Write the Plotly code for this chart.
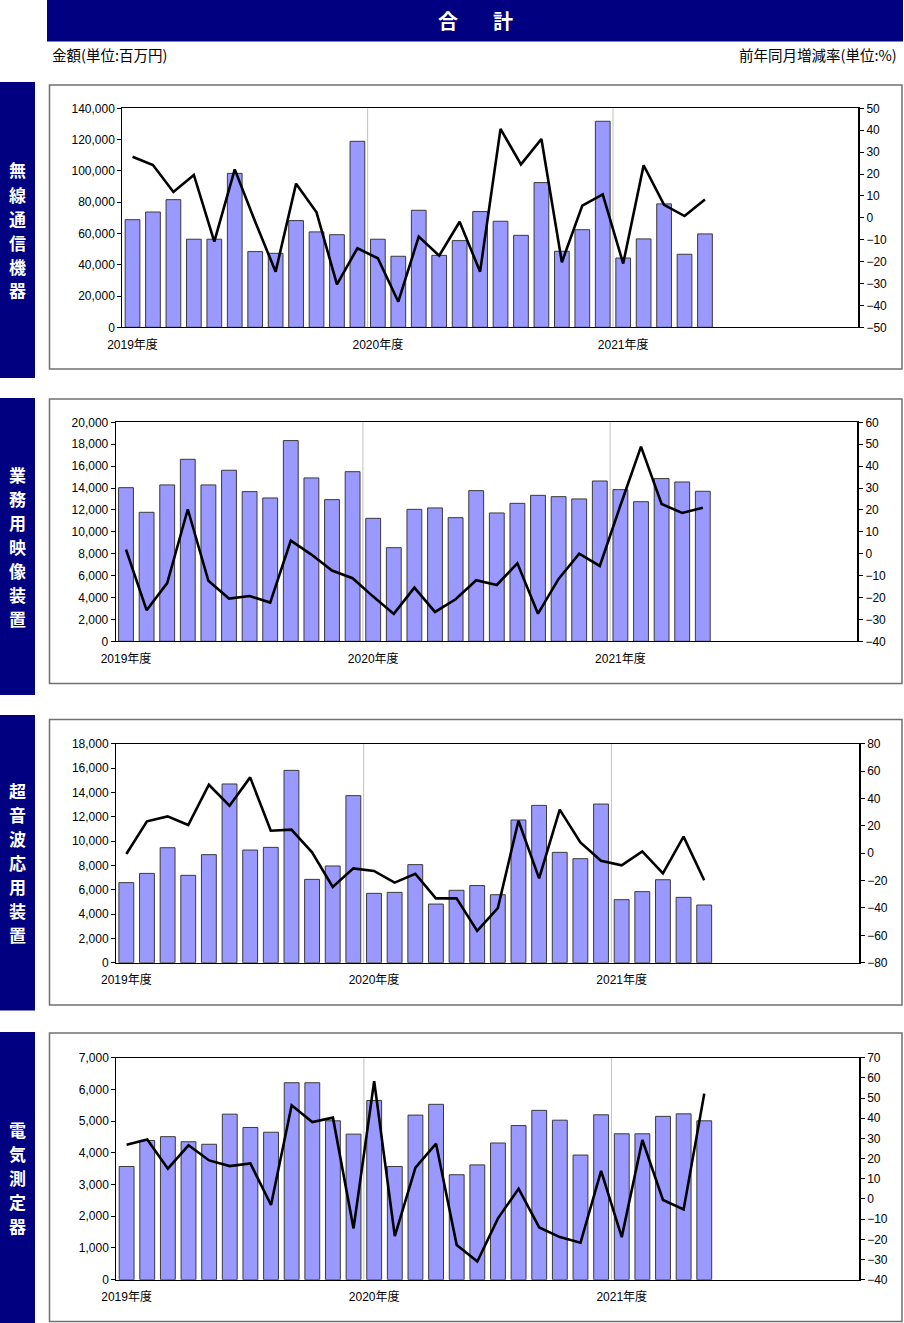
import plotly.graph_objects as go

W, H = 904, 1323

# ---------------- data ----------------
fiscal_years = [2019, 2020, 2021]
month_order = [4, 5, 6, 7, 8, 9, 10, 11, 12, 1, 2, 3]
months = []
for fy in fiscal_years:
    for m in month_order:
        y = fy if m >= 4 else fy + 1
        months.append(f"{y}/{m:02d}")
data_months = months[:29]
tick_vals = ["2019/04", "2020/04", "2021/04"]
tick_text = ["2019年度", "2020年度", "2021年度"]

panel_names = ["無線通信機器", "業務用映像装置", "超音波応用装置", "電気測定器"]

amount_wireless = [68800, 73700, 81600, 56300, 56300, 98400, 48400, 47300, 68200, 61000, 59200, 118900,
                   56300, 45400, 74800, 46000, 55400, 74000, 67800, 58800, 92500, 48600, 62400, 131700,
                   44300, 56500, 78900, 46700, 59700]
rate_wireless = [27.9, 24.1, 11.8, 19.6, -10.9, 22.1, -1.8, -24.6, 15.6, 2.5, -30.4, -13.9,
                 -18.5, -38.3, -8.6, -17.3, -1.8, -24.6, 40.6, 24.4, 36.0, -20.3, 5.6, 10.7,
                 -20.9, 24.0, 5.9, 0.8, 8.4]

amount_video = [14030, 11780, 14280, 16620, 14280, 15620, 13670, 13090, 18330, 14920, 12940, 15490,
                11230, 8550, 12050, 12180, 11290, 13760, 11720, 12600, 13330, 13210, 13000, 14640,
                13850, 12750, 14860, 14550, 13700]
rate_video = [1.9, -25.8, -13.4, 20.3, -12.4, -20.5, -19.3, -22.3, 6.0, -0.4, -7.7, -11.2,
              -19.6, -27.5, -15.5, -26.6, -20.8, -12.1, -14.3, -4.4, -27.4, -11.5, 0.0, -5.6,
              22.0, 48.9, 22.7, 18.6, 21.0]

amount_ultra = [6580, 7340, 9450, 7180, 8880, 14690, 9260, 9480, 15810, 6850, 7950, 13730,
                5700, 5780, 8060, 4820, 5950, 6340, 5590, 11730, 12930, 9070, 8550, 13040,
                5180, 5840, 6820, 5370, 4740]
rate_ultra = [-0.6, 23.3, 26.9, 20.6, 50.0, 34.7, 55.4, 16.4, 17.2, 0.6, -24.7, -11.1,
              -13.0, -21.5, -15.0, -33.0, -33.0, -56.8, -40.1, 23.7, -18.4, 31.8, 7.9, -5.5,
              -8.9, 1.3, -14.7, 12.1, -19.8]

amount_meter = [3570, 4390, 4510, 4350, 4270, 5220, 4800, 4650, 6210, 6210, 5010, 4590,
                5650, 3570, 5190, 5530, 3310, 3620, 4310, 4860, 5340, 5030, 3930, 5200,
                4600, 4600, 5150, 5230, 5010]
rate_meter = [26.9, 29.5, 15.0, 26.6, 19.1, 16.3, 17.6, -3.0, 46.4, 38.1, 40.3, -14.6,
              58.4, -18.4, 15.5, 27.4, -22.8, -31.0, -9.6, 5.1, -14.1, -18.9, -21.7, 13.9,
              -18.9, 29.2, -0.5, -5.2, 52.2]

amounts = [amount_wireless, amount_video, amount_ultra, amount_meter]
rates = [rate_wireless, rate_video, rate_ultra, rate_meter]
amount_ranges = [(0, 140000, 20000), (0, 20000, 2000), (0, 18000, 2000), (0, 7000, 1000)]
rate_ranges = [(-50, 50, 10), (-40, 60, 10), (-80, 80, 20), (-40, 70, 10)]

# ---------------- layout geometry (pixels) ----------------
plot_boxes = [  # x0, x1, ytop, ybottom
    (122.3, 858.3, 108.3, 327.3),
    (115.7, 857.3, 422.3, 641.3),
    (116.0, 859.0, 743.7, 962.7),
    (116.3, 859.0, 1057.7, 1279.7),
]
panel_frames = [(49.5, 902, 85, 369), (49.5, 902, 399, 683.5), (49.5, 902, 719.5, 1005), (49.5, 902, 1033, 1321.5)]
side_bars = [(82, 378), (398, 695), (715, 1010.5), (1032, 1323)]

NAVY = "#000080"
FONT = "Liberation Sans, Noto Sans CJK JP, sans-serif"
JFONT = "Noto Sans CJK JP, sans-serif"


def px(x):
    return x / W


def py(y):
    return 1 - y / H


fig = go.Figure()
shapes = []
annotations = []

# title bar
shapes.append(dict(type="rect", xref="paper", yref="paper", x0=px(47), x1=px(903), y0=py(41.5), y1=py(0),
                   fillcolor=NAVY, line=dict(width=0), layer="below"))
for ch, cx in [("合", 448), ("計", 503)]:
    annotations.append(dict(xref="paper", yref="paper", x=px(cx), y=py(21), text=f"<b>{ch}</b>", showarrow=False,
                            font=dict(family=JFONT, size=20, color="white"), xanchor="center", yanchor="middle"))
annotations.append(dict(xref="paper", yref="paper", x=px(50), y=py(54), text="金額(単位:百万円)", showarrow=False,
                        font=dict(family=JFONT, size=14.5, color="black"), xanchor="left", yanchor="middle"))
annotations.append(dict(xref="paper", yref="paper", x=px(899), y=py(54), text="前年同月増減率(単位:%)", showarrow=False,
                        font=dict(family=JFONT, size=14.5, color="black"), xanchor="right", yanchor="middle"))

layout_axes = {}
for i in range(4):
    x0, x1, yt, yb = plot_boxes[i]
    xa = "x" if i == 0 else f"x{i + 1}"
    ya_n = 2 * i + 1
    yb_n = 2 * i + 2
    ya = "y" if ya_n == 1 else f"y{ya_n}"
    yb2 = f"y{yb_n}"

    fig.add_trace(go.Bar(x=data_months, y=amounts[i], xaxis=xa, yaxis=ya,
                         marker=dict(color="#9999FF", line=dict(color="#3a3a3a", width=1)),
                         showlegend=False, hoverinfo="skip"))
    fig.add_trace(go.Scatter(x=data_months, y=rates[i], xaxis=xa, yaxis=yb2, mode="lines",
                             line=dict(color="black", width=2.6), showlegend=False, hoverinfo="skip"))

    xkey = "xaxis" if i == 0 else f"xaxis{i + 1}"
    ykey = "yaxis" if ya_n == 1 else f"yaxis{ya_n}"
    y2key = f"yaxis{yb_n}"
    dom_y = [py(yb), py(yt)]
    layout_axes[xkey] = dict(domain=[px(x0), px(x1)], anchor=ya, type="category", categoryorder="array",
                             categoryarray=months, range=[-0.5, len(months) - 0.5],
                             tickmode="array", tickvals=tick_vals, ticktext=tick_text, ticks="",
                             ticklabelstandoff=6, automargin=False,
                             showline=True, linecolor="black", linewidth=1, mirror=True,
                             showgrid=False, zeroline=False, fixedrange=True,
                             tickfont=dict(family=FONT, size=12, color="black"))
    lo, hi, dt = amount_ranges[i]
    layout_axes[ykey] = dict(domain=dom_y, anchor=xa, range=[lo, hi], dtick=dt, tickformat=",d",
                             showline=True, linecolor="black", linewidth=1, ticks="outside", ticklen=4,
                             tickcolor="black", showgrid=False, zeroline=False, automargin=False,
                             tickfont=dict(family=FONT, size=12, color="black"))
    lo2, hi2, dt2 = rate_ranges[i]
    layout_axes[y2key] = dict(domain=dom_y, anchor=xa, overlaying=ya, side="right", range=[lo2, hi2], dtick=dt2,
                              showline=True, linecolor="black", linewidth=1.5, ticks="outside", ticklen=4,
                              tickcolor="black", showgrid=False, zeroline=False, automargin=False,
                              tickfont=dict(family=FONT, size=12, color="black"))

    # year divider lines
    for b in [11.5, 23.5]:
        shapes.append(dict(type="line", xref=xa, yref=f"{ya} domain", x0=b, x1=b, y0=0, y1=1,
                           line=dict(color="#c0c0c0", width=1), layer="below"))

    # panel frame
    fx0, fx1, fy0, fy1 = panel_frames[i]
    shapes.append(dict(type="rect", xref="paper", yref="paper", x0=px(fx0), x1=px(fx1), y0=py(fy1), y1=py(fy0),
                       line=dict(color="#707070", width=1.5), fillcolor="rgba(0,0,0,0)", layer="below"))

    # side bar with vertical label
    s0, s1 = side_bars[i]
    shapes.append(dict(type="rect", xref="paper", yref="paper", x0=px(0), x1=px(35), y0=py(s1), y1=py(s0),
                       fillcolor=NAVY, line=dict(width=0), layer="below"))
    name = panel_names[i]
    n = len(name)
    center = (s0 + s1) / 2
    for k, ch in enumerate(name):
        cy = center + (k - (n - 1) / 2) * 24
        annotations.append(dict(xref="paper", yref="paper", x=px(17.5), y=py(cy), text=f"<b>{ch}</b>",
                                showarrow=False, font=dict(family=JFONT, size=17, color="white"),
                                xanchor="center", yanchor="middle"))

fig.update_layout(width=W, height=H, margin=dict(l=0, r=0, t=0, b=0, autoexpand=False),
                  paper_bgcolor="white", plot_bgcolor="white", bargap=0.28,
                  shapes=shapes, annotations=annotations, **layout_axes)

fig.write_html("out.html", config={"displayModeBar": False},
               post_script="document.body.style.margin='0px';document.body.style.overflow='hidden';")
